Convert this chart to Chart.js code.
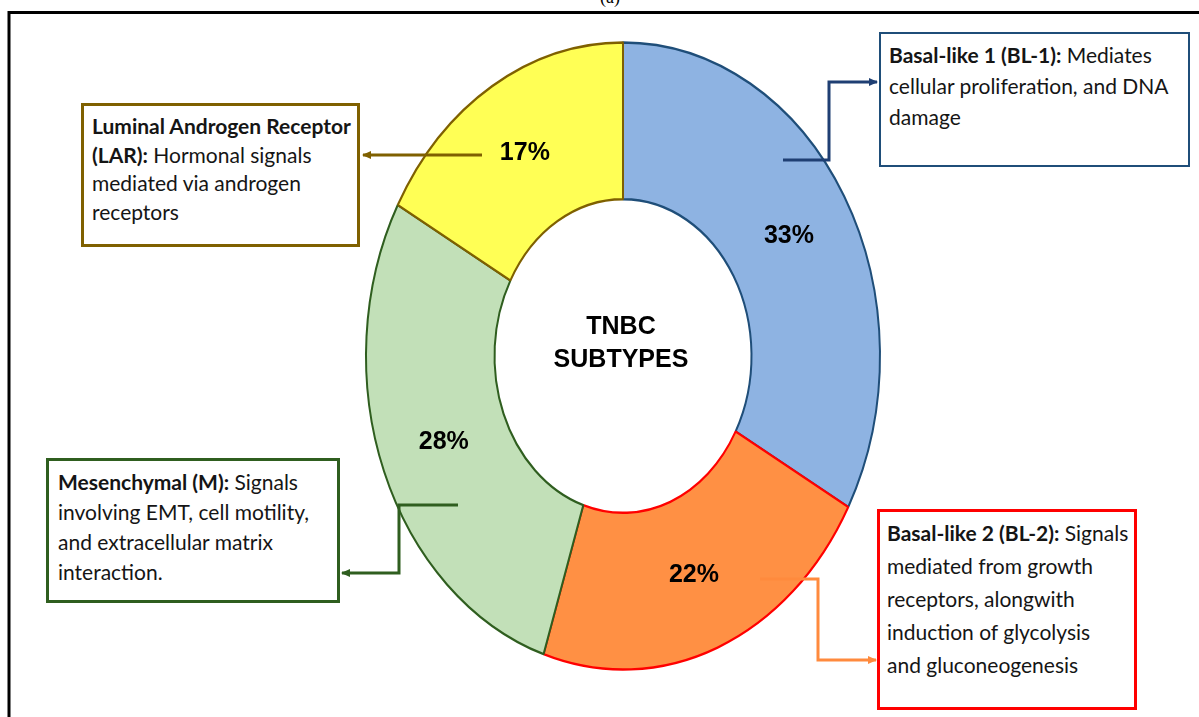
<!DOCTYPE html>
<html>
<head>
<meta charset="utf-8">
<script src="https://cdn.jsdelivr.net/npm/chart.js@4"></script>
<style>
  body { margin: 0; background: #fff; width: 1199px; height: 717px; overflow: hidden; position: relative; }
  #tnbcChart { position: absolute; left: 0; top: 0; }
  .box { position: absolute; box-sizing: border-box; background: #fff; font-family: Lato, "Open Sans", sans-serif; font-size: 21px; color: #151515; white-space: nowrap; }
  .box b { font-weight: 700; }
  #frame { position: absolute; left: 0; top: 0; pointer-events: none; }
  .tag { position: absolute; left: 600px; top: -13px; font: 18px "Liberation Serif", serif; color: #000; }
</style>
</head>
<body>
<div class="tag">(a)</div>
<canvas id="tnbcChart" width="1199" height="717"></canvas>
<svg id="frame" width="1199" height="717">
  <defs>
    <marker id="hNavy" markerUnits="userSpaceOnUse" markerWidth="10" markerHeight="10" refX="8" refY="5" orient="auto"><path d="M0,1 L9,5 L0,9 z" fill="#1F3F73"/></marker>
    <marker id="hOlive" markerUnits="userSpaceOnUse" markerWidth="10" markerHeight="10" refX="8" refY="5" orient="auto"><path d="M0,1 L9,5 L0,9 z" fill="#7F6000"/></marker>
    <marker id="hGreen" markerUnits="userSpaceOnUse" markerWidth="10" markerHeight="10" refX="8" refY="5" orient="auto"><path d="M0,1 L9,5 L0,9 z" fill="#2F5E1F"/></marker>
    <marker id="hOrange" markerUnits="userSpaceOnUse" markerWidth="10" markerHeight="10" refX="8" refY="5" orient="auto"><path d="M0,1 L9,5 L0,9 z" fill="#FF8A3D"/></marker>
  </defs>
  <line x1="8" y1="12.5" x2="1199" y2="12.5" stroke="#000" stroke-width="3"/>
  <line x1="9" y1="11" x2="9" y2="717" stroke="#000" stroke-width="3"/>
  <polyline points="783,160 829,160 829,82 877,82" fill="none" stroke="#1F3F73" stroke-width="3" marker-end="url(#hNavy)"/>
  <polyline points="482,155 363,155" fill="none" stroke="#7F6000" stroke-width="3" marker-end="url(#hOlive)"/>
  <polyline points="458,505 399,505 399,573 342,573" fill="none" stroke="#2F5E1F" stroke-width="3" marker-end="url(#hGreen)"/>
  <polyline points="760,579 818,579 818,660 876,660" fill="none" stroke="#FF8A3D" stroke-width="3" marker-end="url(#hOrange)"/>
</svg>

<div class="box" style="left:879px;top:32px;width:311px;height:135px;border:2px solid #1F4E79;padding:5px 0 0 8px;line-height:31px;">
  <b>Basal-like 1 (BL-1):</b> Mediates<br>cellular proliferation, and DNA<br>damage
</div>
<div class="box" style="left:81px;top:103px;width:279px;height:144px;border:3px solid #7F6000;padding:6px 0 0 8px;line-height:28.5px;">
  <b>Luminal Androgen Receptor</b><br><b>(LAR):</b> Hormonal signals<br>mediated via androgen<br>receptors
</div>
<div class="box" style="left:46px;top:458px;width:294px;height:145px;border:3px solid #2F5E1F;padding:6px 0 0 9px;line-height:30px;">
  <b>Mesenchymal (M):</b> Signals<br>involving EMT, cell motility,<br>and extracellular matrix<br>interaction.
</div>
<div class="box" style="left:877px;top:509px;width:260px;height:201px;border:3px solid #FF0000;padding:4px 0 0 7px;line-height:33px;">
  <b>Basal-like 2 (BL-2):</b> Signals<br>mediated from growth<br>receptors, alongwith<br>induction of glycolysis<br>and gluconeogenesis
</div>

<script>
const subtypes = ['Basal-like 1 (BL-1)', 'Basal-like 2 (BL-2)', 'Mesenchymal (M)', 'Luminal Androgen Receptor (LAR)'];
const shares = [33, 22, 28, 17];
const fillColors = ['#8EB3E2', '#FF9044', '#C2E0B8', '#FFFF55'];
const edgeColors = ['#1F4E79', '#FF0000', '#2F5E1F', '#7F6000'];
const centerText = ['TNBC', 'SUBTYPES'];

// the original ring is an upright ellipse, so stretch the drawing vertically
const stretchY = 1.22;

const ellipse = {
    id: 'ellipse',
    beforeDatasetsDraw(chart) {
        const arc = chart.getDatasetMeta(0).data[0];
        const c = chart.ctx;
        c.save();
        c.translate(arc.x, arc.y);
        c.scale(1, stretchY);
        c.translate(-arc.x, -arc.y);
    },
    afterDatasetsDraw(chart) {
        const c = chart.ctx;
        c.restore();
        const meta = chart.getDatasetMeta(0);
        const cx = meta.data[0].x, cy = meta.data[0].y;
        c.save();
        c.fillStyle = '#000';
        c.textAlign = 'center';
        c.textBaseline = 'middle';
        c.font = 'bold 25px "Liberation Sans", Arial, sans-serif';
        meta.data.forEach((el, i) => {
            const p = el.tooltipPosition();
            c.fillText(shares[i] + '%', p.x, cy + (p.y - cy) * stretchY);
        });
        c.fillText(centerText[0], cx - 2, cy - 29);
        c.fillText(centerText[1], cx - 2, cy + 4);
        c.restore();
    }
};

new Chart(document.getElementById('tnbcChart'), {
    type: 'doughnut',
    data: {
        labels: subtypes,
        datasets: [{
            data: shares,
            backgroundColor: fillColors,
            borderColor: edgeColors,
            borderWidth: 2,
            radius: 257,
            cutout: '50%'
        }]
    },
    options: {
        responsive: false,
        animation: false,
        devicePixelRatio: 1,
        layout: { padding: { left: 47, right: 0, top: 0, bottom: 5 } },
        plugins: { legend: { display: false }, tooltip: { enabled: false } }
    },
    plugins: [ellipse]
});
</script>
</body>
</html>
